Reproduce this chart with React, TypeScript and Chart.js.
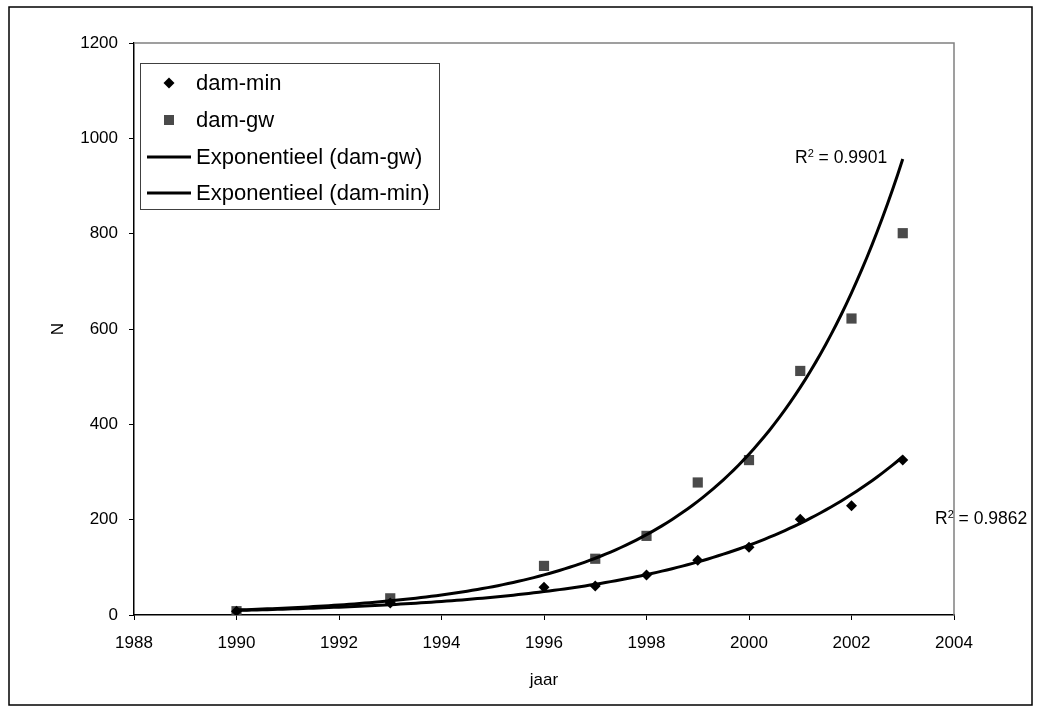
import React, { useEffect, useRef } from 'react';
import { Chart, registerables } from 'chart.js';
Chart.register(...registerables);

const years = [1990, 1993, 1996, 1997, 1998, 1999, 2000, 2001, 2002, 2003];
const damMin = [8, 25, 58, 61, 84, 115, 142, 201, 229, 325];
const damGw = [8, 35, 103, 118, 166, 278, 325, 512, 622, 801];
const xRange = [1988, 2004];
const xStep = 2;
const yRange = [0, 1200];
const yStep = 200;
const legendLabels = ['dam-min', 'dam-gw', 'Exponentieel (dam-gw)', 'Exponentieel (dam-min)'];
const r2Values = ['0.9901', '0.9862'];
const xTitle = 'jaar';
const yTitle = 'N';

const FONT = '"Liberation Sans", Arial, sans-serif';
const GW_COLOR = '#4a4a4a';

// Exponential least-squares regression (as Excel's exponential trendline)
function expFit(xs: number[], ys: number[]) {
  const n = xs.length;
  const ly = ys.map((v) => Math.log(v));
  const mx = xs.reduce((s, v) => s + v, 0) / n;
  const my = ly.reduce((s, v) => s + v, 0) / n;
  let sxx = 0, sxy = 0;
  for (let i = 0; i < n; i++) {
    sxx += (xs[i] - mx) ** 2;
    sxy += (xs[i] - mx) * (ly[i] - my);
  }
  const b = sxy / sxx;
  const lnA = my - b * mx;
  return { lnA, b };
}

function trendPoints(xs: number[], ys: number[]) {
  const { lnA, b } = expFit(xs, ys);
  const pts: { x: number; y: number }[] = [];
  const x0 = xs[0];
  const x1 = xs[xs.length - 1];
  const steps = 130;
  for (let i = 0; i <= steps; i++) {
    const x = x0 + ((x1 - x0) * i) / steps;
    pts.push({ x, y: Math.exp(lnA + b * x) });
  }
  return pts;
}

const overlayPlugin = {
  id: 'overlay',
  afterDraw(chart: any) {
    const ctx = chart.ctx as CanvasRenderingContext2D;
    const { left, right, top, bottom } = chart.chartArea;
    ctx.save();
    // outer border
    ctx.strokeStyle = '#000';
    ctx.lineWidth = 1.5;
    ctx.strokeRect(9, 7, 1023, 698);
    // plot area top/right border
    ctx.strokeStyle = '#808080';
    ctx.lineWidth = 1.5;
    ctx.beginPath();
    ctx.moveTo(left, top);
    ctx.lineTo(right, top);
    ctx.lineTo(right, bottom);
    ctx.stroke();

    // axis titles
    ctx.fillStyle = '#000';
    ctx.font = `17px ${FONT}`;
    ctx.textAlign = 'center';
    ctx.textBaseline = 'middle';
    ctx.fillText(xTitle, (left + right) / 2, 680);
    ctx.save();
    ctx.translate(58, (top + bottom) / 2);
    ctx.rotate(-Math.PI / 2);
    ctx.fillText(yTitle, 0, 0);
    ctx.restore();

    // legend
    const lx = 140, ly = 63, lw = 299, lh = 146;
    ctx.fillStyle = '#fff';
    ctx.fillRect(lx, ly, lw, lh);
    ctx.strokeStyle = '#404040';
    ctx.lineWidth = 1;
    ctx.strokeRect(lx + 0.5, ly + 0.5, lw, lh);
    const rows = [83, 120, 157, 193];
    ctx.font = `22px ${FONT}`;
    ctx.textAlign = 'left';
    ctx.textBaseline = 'middle';
    rows.forEach((ry, i) => {
      ctx.fillStyle = '#000';
      ctx.fillText(legendLabels[i], 196, ry + 1);
      if (i === 0) {
        ctx.beginPath();
        ctx.moveTo(169, ry - 5.5);
        ctx.lineTo(174.5, ry);
        ctx.lineTo(169, ry + 5.5);
        ctx.lineTo(163.5, ry);
        ctx.closePath();
        ctx.fill();
      } else if (i === 1) {
        ctx.fillStyle = GW_COLOR;
        ctx.fillRect(164, ry - 5, 10, 10);
      } else {
        ctx.strokeStyle = '#000';
        ctx.lineWidth = 3;
        ctx.beginPath();
        ctx.moveTo(147, ry);
        ctx.lineTo(191, ry);
        ctx.stroke();
      }
    });

    // R² labels
    const drawR2 = (x: number, baseline: number, val: string) => {
      ctx.fillStyle = '#000';
      ctx.textAlign = 'left';
      ctx.textBaseline = 'alphabetic';
      ctx.font = `17.5px ${FONT}`;
      ctx.fillText('R', x, baseline);
      const rw = ctx.measureText('R').width;
      ctx.font = `11px ${FONT}`;
      ctx.fillText('2', x + rw, baseline - 6.5);
      const sw = ctx.measureText('2').width;
      ctx.font = `17.5px ${FONT}`;
      ctx.fillText(' = ' + val, x + rw + sw, baseline);
    };
    drawR2(795, 163, r2Values[0]);
    drawR2(935, 524, r2Values[1]);
    ctx.restore();
  },
};

export default function App() {
  const ref = useRef<HTMLCanvasElement | null>(null);
  useEffect(() => {
    document.body.style.margin = '0';
    const canvas = ref.current!;
    const chart = new Chart(canvas, {
      type: 'scatter',
      data: {
        datasets: [
          {
            type: 'line',
            label: legendLabels[2],
            data: trendPoints(years, damGw),
            borderColor: '#000',
            borderWidth: 3,
            pointRadius: 0,
            tension: 0,
            fill: false,
            order: 0,
          } as any,
          {
            type: 'line',
            label: legendLabels[3],
            data: trendPoints(years, damMin),
            borderColor: '#000',
            borderWidth: 3,
            pointRadius: 0,
            tension: 0,
            fill: false,
            order: 1,
          } as any,
          {
            label: legendLabels[0],
            data: years.map((x, i) => ({ x, y: damMin[i] })),
            pointStyle: 'rectRot',
            pointRadius: 5.5,
            backgroundColor: '#000',
            borderColor: '#000',
            borderWidth: 0,
            order: 2,
          },
          {
            label: legendLabels[1],
            data: years.map((x, i) => ({ x, y: damGw[i] })),
            pointStyle: 'rect',
            pointRadius: 7.2,
            backgroundColor: GW_COLOR,
            borderColor: GW_COLOR,
            borderWidth: 0,
            order: 3,
          },
        ],
      },
      options: {
        responsive: false,
        animation: false,
        events: [],
        layout: { padding: { left: 0, top: 43, right: 83, bottom: 0 } },
        plugins: {
          legend: { display: false },
          tooltip: { enabled: false },
        },
        scales: {
          x: {
            type: 'linear',
            min: xRange[0],
            max: xRange[1],
            afterFit: (s: any) => { s.height = 96; },
            ticks: {
              stepSize: xStep,
              color: '#000',
              font: { family: FONT, size: 17 },
              padding: 13,
              maxRotation: 0,
              callback: (v: any) => String(v),
            },
            grid: { display: true, drawOnChartArea: false, drawTicks: true, tickLength: 5, color: '#000' },
            border: { display: true, color: '#000', width: 1.5 },
          },
          y: {
            type: 'linear',
            min: yRange[0],
            max: yRange[1],
            afterFit: (s: any) => { s.width = 134; },
            ticks: {
              stepSize: yStep,
              color: '#000',
              font: { family: FONT, size: 17 },
              padding: 11,
              callback: (v: any) => String(v),
            },
            grid: { display: true, drawOnChartArea: false, drawTicks: true, tickLength: 5, color: '#000' },
            border: { display: true, color: '#000', width: 1.5 },
          },
        },
      },
      plugins: [overlayPlugin],
    });
    return () => chart.destroy();
  }, []);
  return (
    <canvas
      ref={ref}
      width={1037}
      height={711}
      style={{ display: 'block', width: 1037, height: 711, background: '#fff' }}
    />
  );
}
